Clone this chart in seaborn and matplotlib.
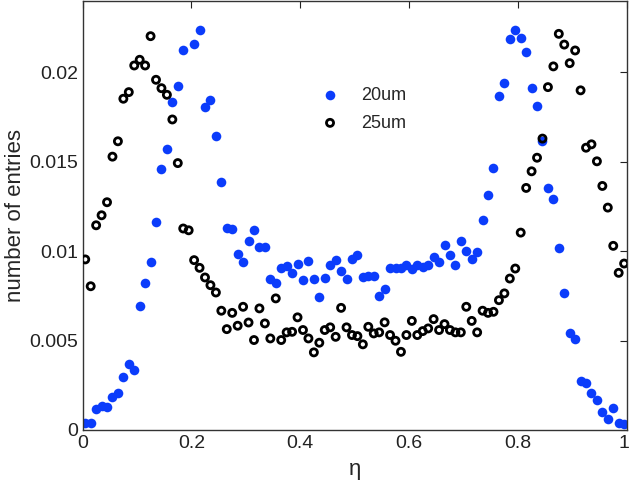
import numpy as np
import pandas as pd
import seaborn as sns
import matplotlib.pyplot as plt
import matplotlib.transforms as mtransforms

# bin centres (eta) and normalised entries for the two pitches
eta = [0.005, 0.015, 0.025, 0.035, 0.045, 0.055, 0.065, 0.075, 0.085, 0.095,
       0.105, 0.115, 0.125, 0.135, 0.145, 0.155, 0.165, 0.175, 0.185, 0.195,
       0.205, 0.215, 0.225, 0.235, 0.245, 0.255, 0.265, 0.275, 0.285, 0.295,
       0.305, 0.315, 0.325, 0.335, 0.345, 0.355, 0.365, 0.375, 0.385, 0.395,
       0.405, 0.415, 0.425, 0.435, 0.445, 0.455, 0.465, 0.475, 0.485, 0.495,
       0.505, 0.515, 0.525, 0.535, 0.545, 0.555, 0.565, 0.575, 0.585, 0.595,
       0.605, 0.615, 0.625, 0.635, 0.645, 0.655, 0.665, 0.675, 0.685, 0.695,
       0.705, 0.715, 0.725, 0.735, 0.745, 0.755, 0.765, 0.775, 0.785, 0.795,
       0.805, 0.815, 0.825, 0.835, 0.845, 0.855, 0.865, 0.875, 0.885, 0.895,
       0.905, 0.915, 0.925, 0.935, 0.945, 0.955, 0.965, 0.975, 0.985, 0.995]

entries_20um = [0.00037, 0.00040, 0.00116, 0.00136, 0.00127, 0.00183, 0.00205, 0.00294, 0.00367, 0.00335,
                0.00693, 0.00820, 0.00940, 0.01164, 0.01458, 0.01570, 0.01836, 0.01927, 0.02123, np.nan,
                0.02160, 0.02238, 0.01806, 0.01847, 0.01642, 0.01385, 0.01132, 0.01127, 0.00987, 0.00937,
                0.01058, 0.01117, 0.01024, 0.01024, 0.00847, 0.00820, 0.00907, 0.00918, 0.00879, 0.00927,
                0.00838, 0.00944, 0.00847, 0.00741, 0.00851, 0.00922, 0.00950, 0.00890, 0.00844, 0.00959,
                0.00978, 0.00857, 0.00860, 0.00860, 0.00750, 0.00791, 0.00907, 0.00907, 0.00907, 0.00922,
                0.00900, 0.00922, 0.00909, 0.00922, 0.00968, 0.00937, 0.01037, 0.00981, 0.00922, 0.01058,
                0.01002, 0.00959, 0.00996, 0.01177, 0.01313, 0.01465, 0.01866, 0.01942, 0.02188, 0.02238,
                0.02194, 0.02117, 0.01912, 0.01812, 0.01616, 0.01354, 0.01294, 0.01019, 0.00764, 0.00544,
                0.00508, 0.00274, 0.00264, 0.00205, 0.00168, 0.00102, 0.00060, 0.00121, 0.00037, 0.00034]

entries_25um = [0.00954, 0.00804, 0.01145, 0.01201, 0.01274, 0.01529, 0.01615, 0.01853, 0.01890, 0.02039,
                0.02071, 0.02039, 0.02203, 0.01959, 0.01912, 0.01875, 0.01737, 0.01493, 0.01127, 0.01117,
                0.00950, 0.00907, 0.00853, 0.00810, 0.00769, 0.00667, 0.00564, 0.00655, 0.00583, 0.00689,
                0.00601, 0.00503, 0.00680, 0.00596, 0.00512, 0.00736, 0.00503, 0.00546, 0.00549, 0.00630,
                0.00559, 0.00512, 0.00434, 0.00488, 0.00559, 0.00574, 0.00521, 0.00683, 0.00574, 0.00531,
                0.00525, 0.00479, 0.00577, 0.00540, 0.00546, 0.00602, 0.00531, 0.00499, 0.00437, 0.00531,
                0.00610, 0.00531, 0.00553, 0.00568, 0.00620, 0.00559, 0.00592, 0.00559, 0.00546, 0.00546,
                0.00689, 0.00610, 0.00546, 0.00667, 0.00655, 0.00661, 0.00726, 0.00764, 0.00847, 0.00903,
                0.01104, 0.01354, 0.01447, 0.01523, 0.01630, 0.01918, 0.02034, 0.02216, 0.02156, 0.02052,
                0.02123, 0.01900, 0.01579, 0.01598, 0.01503, 0.01365, 0.01244, 0.01030, 0.00879, 0.00931]

xticks = [0, 0.2, 0.4, 0.6, 0.8, 1]
xticklabels = ["0", "0.2", "0.4", "0.6", "0.8", "1"]
yticks = [0, 0.005, 0.01, 0.015, 0.02]
yticklabels = ["0", "0.005", "0.01", "0.015", "0.02"]

df = pd.DataFrame({"eta": eta, "20um": entries_20um, "25um": entries_25um})

sns.set_style("white")
plt.rcParams["font.family"] = ["Liberation Sans", "DejaVu Sans"]

fig = plt.figure(figsize=(6.3, 4.82), dpi=100)
ax = fig.add_axes([0.131, 0.108, 0.864, 0.89])

sns.scatterplot(data=df, x="eta", y="20um", ax=ax, color="#0b3cfb",
                s=48, linewidth=0, label="20um", zorder=2)
sns.scatterplot(data=df, x="eta", y="25um", ax=ax, facecolor="none",
                edgecolor="black", s=26, linewidth=2.0, label="25um", zorder=3)

ax.set_xlim(0, 1)
ax.set_ylim(0, 0.024)
ax.set_xticks(xticks)
ax.set_xticklabels(xticklabels)
ax.set_yticks(yticks)
ax.set_yticklabels(yticklabels)
ax.tick_params(direction="in", top=True, right=True, length=5, width=0.8,
               labelsize=14, colors="#222222", pad=4)
ax.tick_params(axis="y", pad=3)
for sp in ax.spines.values():
    sp.set_color("#333333")
    sp.set_linewidth(1.0)

# nudge the "1" label so it stays inside the figure
last = ax.get_xticklabels()[-1]
last.set_transform(last.get_transform() + mtransforms.ScaledTranslation(-3 / 100, 0, fig.dpi_scale_trans))

ax.set_xlabel("η", fontsize=16, labelpad=5)
ax.set_ylabel("number of entries", fontsize=16, labelpad=2.5)

ax.legend(loc="upper left", bbox_to_anchor=(0.4215, 0.80), frameon=False,
          fontsize=13, borderaxespad=0, borderpad=0, handletextpad=0.7,
          labelspacing=0.6)

plt.savefig("out.png", dpi=100)
plt.close()
